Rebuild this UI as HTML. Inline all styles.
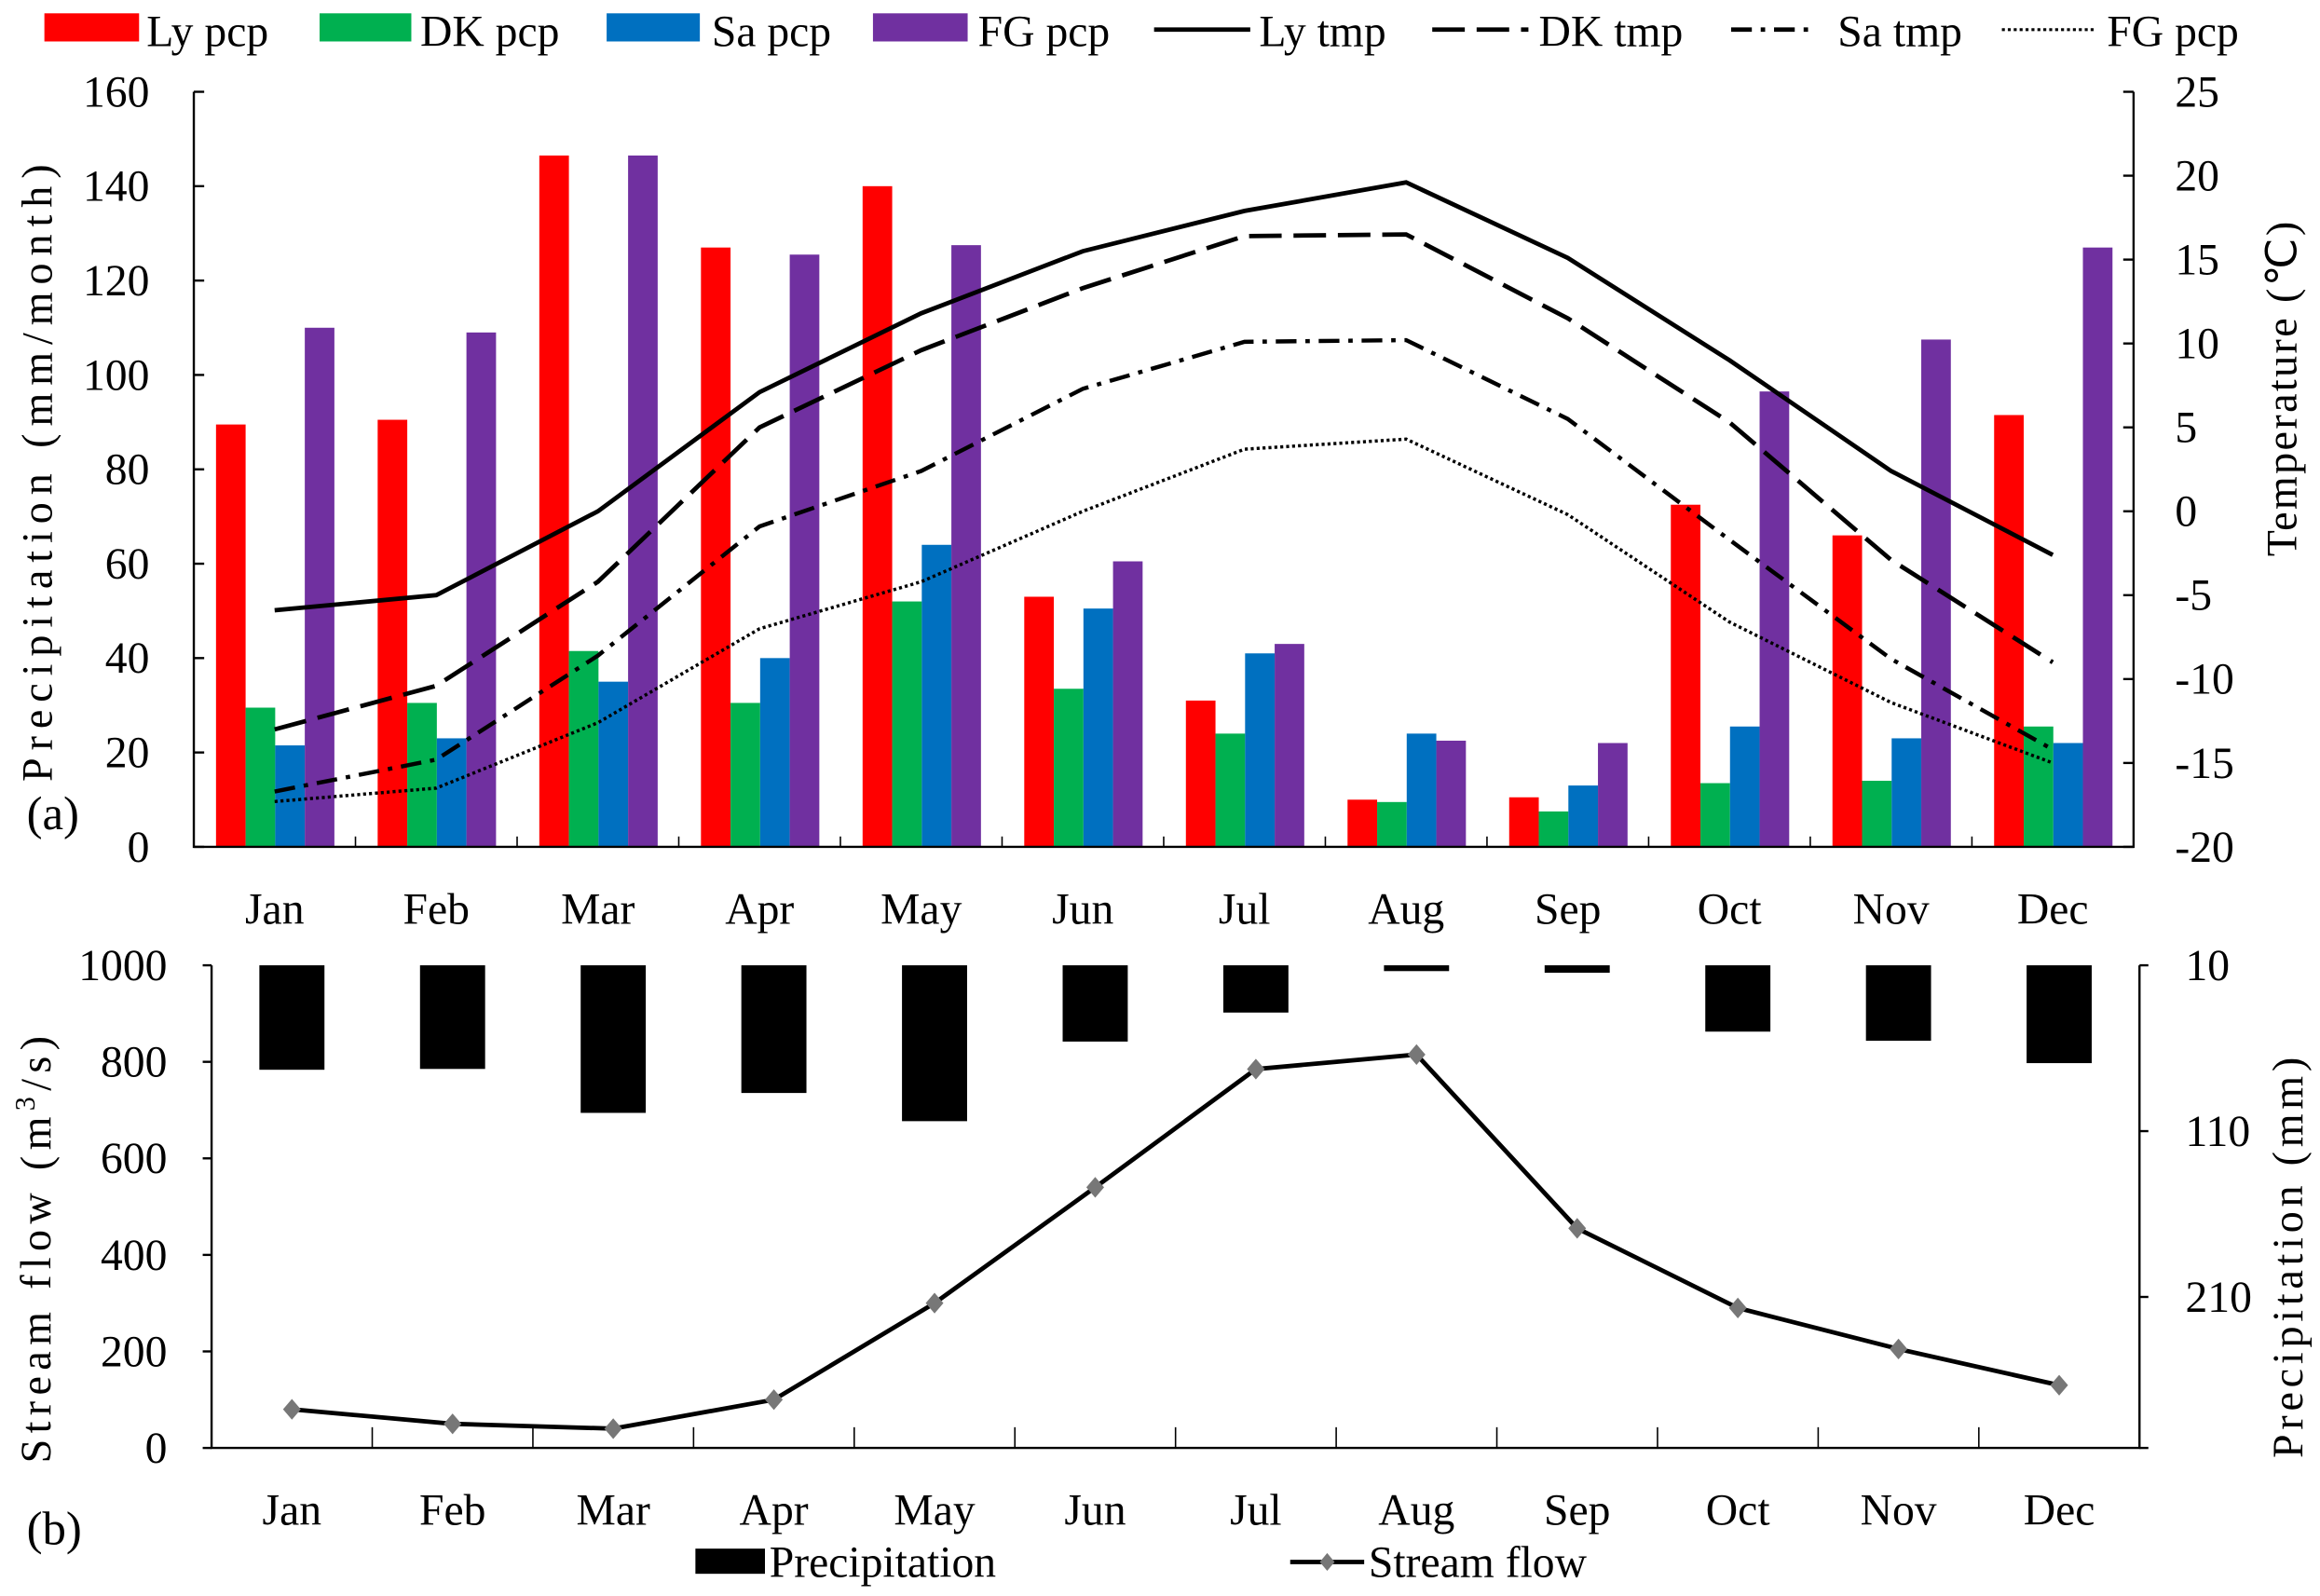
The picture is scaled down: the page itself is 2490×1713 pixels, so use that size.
<!DOCTYPE html>
<html><head><meta charset="utf-8"><style>
html,body{margin:0;padding:0;background:#fff;}
svg{display:block;font-family:"Liberation Serif",serif;}
</style></head><body>
<svg id="chart" width="2490" height="1713" viewBox="0 0 1568 1078" preserveAspectRatio="none" xmlns="http://www.w3.org/2000/svg">
<g id="legendTop">
  <rect x="30" y="9" width="64" height="19" fill="#ff0000"/>
  <text x="99" y="31" font-size="30">Ly pcp</text>
  <rect x="216" y="9" width="62" height="19" fill="#00b050"/>
  <text x="284" y="31" font-size="30">DK pcp</text>
  <rect x="410" y="9" width="63" height="19" fill="#0070c0"/>
  <text x="481" y="31" font-size="30">Sa pcp</text>
  <rect x="590" y="9" width="64" height="19" fill="#7030a0"/>
  <text x="661" y="31" font-size="30">FG pcp</text>
  <line x1="780" y1="20" x2="845" y2="20" stroke="#000" stroke-width="3"/>
  <text x="851" y="31" font-size="30">Ly tmp</text>
  <line x1="968" y1="20" x2="1033" y2="20" stroke="#000" stroke-width="3" stroke-dasharray="22,8"/>
  <text x="1040" y="31" font-size="30">DK tmp</text>
  <line x1="1170" y1="20" x2="1226" y2="20" stroke="#000" stroke-width="3" stroke-dasharray="14,6,3,6"/>
  <text x="1242" y="31" font-size="30">Sa tmp</text>
  <line x1="1353" y1="20" x2="1416" y2="20" stroke="#000" stroke-width="2" stroke-dasharray="2,2"/>
  <text x="1424" y="31" font-size="30">FG pcp</text>
</g>
<g id="pa"></g>
<g id="pb"></g>
<text x="18" y="560" font-size="32">(a)</text>
<text x="18" y="1043" font-size="32">(b)</text>
<text transform="translate(35,317) rotate(-90)" text-anchor="middle" font-size="29" letter-spacing="5">Precipitation (mm/month)</text>
<text transform="translate(1552,262) rotate(-90)" text-anchor="middle" font-size="29" letter-spacing="1.5">Temperature (℃)</text>
<text transform="translate(34,842) rotate(-90)" text-anchor="middle" font-size="29" letter-spacing="4">Stream flow (m<tspan baseline-shift="super" font-size="19">3</tspan>/s)</text>
<text transform="translate(1556,848) rotate(-90)" text-anchor="middle" font-size="29" letter-spacing="3">Precipitation (mm)</text>
<g>
  <rect x="470" y="1046" width="47" height="17" fill="#000"/>
  <text x="520" y="1065" font-size="30">Precipitation</text>
  <line x1="872" y1="1055" x2="922" y2="1055" stroke="#000" stroke-width="3"/>
  <path d="M897,1049 L902,1055 L897,1061 L892,1055Z" fill="#777"/>
  <text x="925" y="1065" font-size="30">Stream flow</text>
</g>
</svg>
<script>
const months = ["Jan","Feb","Mar","Apr","May","Jun","Jul","Aug","Sep","Oct","Nov","Dec"];
const lyPcp = [89.5,90.5,146.5,127,140,53,31,10,10.5,72.5,66,91.5];
const dkPcp = [29.5,30.5,41.5,30.5,52,33.5,24,9.5,7.5,13.5,14,25.5];
const saPcp = [21.5,23,35,40,64,50.5,41,24,13,25.5,23,22];
const fgPcp = [110,109,146.5,125.5,127.5,60.5,43,22.5,22,96.5,107.5,127];
const lyTmp = [-5.9,-5.0,0.0,7.1,11.8,15.5,17.9,19.6,15.1,9.0,2.4,-2.6];
const dkTmp = [-13,-10.4,-4.2,5.0,9.6,13.3,16.4,16.5,11.5,5.3,-2.9,-9.0];
const saTmp = [-16.7,-14.8,-8.6,-0.9,2.4,7.3,10.1,10.2,5.5,-1.7,-8.8,-14.2];
const fgTmp = [-17.3,-16.5,-12.6,-7.0,-4.2,0.0,3.7,4.3,-0.2,-6.6,-11.4,-15.0];
const leftTicksA = [0,20,40,60,80,100,120,140,160];
const rightTicksA = [-20,-15,-10,-5,0,5,10,15,20,25];
const streamFlow = [80,50,40,100,300,540,785,815,455,290,205,130];
const precipB = [73,72.5,99,87,104,56,38.5,13.5,14.5,50,55.5,69];
const leftTicksB = [0,200,400,600,800,1000];
const rightTicksB = [10,110,210];

const NS="http://www.w3.org/2000/svg";
function mk(parent,tag,attrs,text){const e=document.createElementNS(NS,tag);for(const k in attrs)e.setAttribute(k,attrs[k]);if(text!==undefined)e.textContent=text;parent.appendChild(e);return e;}

// Panel a
const A={l:131,r:1442,t:62,b:572};
const aw=(A.r-A.l)/12;
const yA=v=>A.b-(v/160)*(A.b-A.t);
const yT=v=>A.b-((v+20)/45)*(A.b-A.t);
const xA=i=>A.l+aw*(i+0.5);
const pa=document.getElementById('pa');
const bars=[[lyPcp,"#ff0000","ly"],[dkPcp,"#00b050","dk"],[saPcp,"#0070c0","sa"],[fgPcp,"#7030a0","fg"]];
bars.forEach(([arr,col,nm],s)=>{
  arr.forEach((v,i)=>{
    const r=mk(pa,'rect',{x:A.l+aw*i+15+s*20,y:yA(v),width:20,height:A.b-yA(v),fill:col});
    
    
  });
});
const lines=[[lyTmp,"none",3,"ly"],[dkTmp,"22,8",3,"dk"],[saTmp,"14,6,3,6",2.8,"sa"],[fgTmp,"2,2",2.2,"fg"]];
lines.forEach(([arr,dash,w,nm])=>{
  const p=mk(pa,'polyline',{points:arr.map((v,i)=>xA(i)+","+yT(v)).join(" "),fill:"none",stroke:"#000","stroke-width":w,"stroke-dasharray":dash});
  
  
});
let ax=mk(pa,'path',{d:`M${A.l},${A.t}V${A.b}H${A.r}V${A.t}`,fill:"none",stroke:"#000","stroke-width":1.5});


leftTicksA.forEach(v=>{
  mk(pa,'line',{x1:A.l,x2:A.l+7,y1:yA(v),y2:yA(v),stroke:"#000","stroke-width":1.5});
  const t=mk(pa,'text',{x:101,y:yA(v)+10,"text-anchor":"end","font-size":30},v);
  
  
});
rightTicksA.forEach(v=>{
  mk(pa,'line',{x1:A.r-7,x2:A.r,y1:yT(v),y2:yT(v),stroke:"#000","stroke-width":1.5});
  const t=mk(pa,'text',{x:1470,y:yT(v)+10,"font-size":30},v);
  
  
});
months.forEach((m,i)=>{
  if(i>0) mk(pa,'line',{x1:A.l+aw*i,x2:A.l+aw*i,y1:A.b,y2:A.b-7,stroke:"#000","stroke-width":1});
  const t=mk(pa,'text',{x:xA(i),y:624,"text-anchor":"middle","font-size":30},m);
  
  
});

// Panel b
const B={l:143,r:1446,t:652,b:978};
const bw=(B.r-B.l)/12;
const yB=v=>B.b-(v/1000)*(B.b-B.t);
const yP=v=>B.t+(v-10)*1.12;
const xB=i=>B.l+bw*(i+0.5);
const pb=document.getElementById('pb');
precipB.forEach((v,i)=>{
  const r=mk(pb,'rect',{x:xB(i)-22,y:B.t,width:44,height:yP(v)-B.t,fill:"#000"});
  
  
});
ax=mk(pb,'path',{d:`M${B.l},${B.t}V${B.b}H${B.r}V${B.t}`,fill:"none",stroke:"#000","stroke-width":1.5});


const sl=mk(pb,'polyline',{points:streamFlow.map((v,i)=>xB(i)+","+yB(v)).join(" "),fill:"none",stroke:"#000","stroke-width":3});


streamFlow.forEach((v,i)=>{
  const x=xB(i),y=yB(v);
  const d=mk(pb,'path',{d:`M${x},${y-7}L${x+6},${y}L${x},${y+7}L${x-6},${y}Z`,fill:"#777"});
  
  
});
leftTicksB.forEach(v=>{
  mk(pb,'line',{x1:B.l,x2:B.l-6,y1:yB(v),y2:yB(v),stroke:"#000","stroke-width":1.5});
  const t=mk(pb,'text',{x:113,y:yB(v)+10,"text-anchor":"end","font-size":30},v);
  
  
});
rightTicksB.forEach(v=>{
  mk(pb,'line',{x1:B.r,x2:B.r+6,y1:yP(v),y2:yP(v),stroke:"#000","stroke-width":1.5});
  const t=mk(pb,'text',{x:1477,y:yP(v)+10,"font-size":30},v);
  
  
});
mk(pb,'line',{x1:B.r,x2:B.r+6,y1:B.b,y2:B.b,stroke:"#000","stroke-width":1.5});
months.forEach((m,i)=>{
  if(i>0) mk(pb,'line',{x1:B.l+bw*i,x2:B.l+bw*i,y1:B.b,y2:B.b-14,stroke:"#000","stroke-width":1});
  const t=mk(pb,'text',{x:xB(i),y:1030,"text-anchor":"middle","font-size":30},m);
  
  
});
</script>
</body></html>
